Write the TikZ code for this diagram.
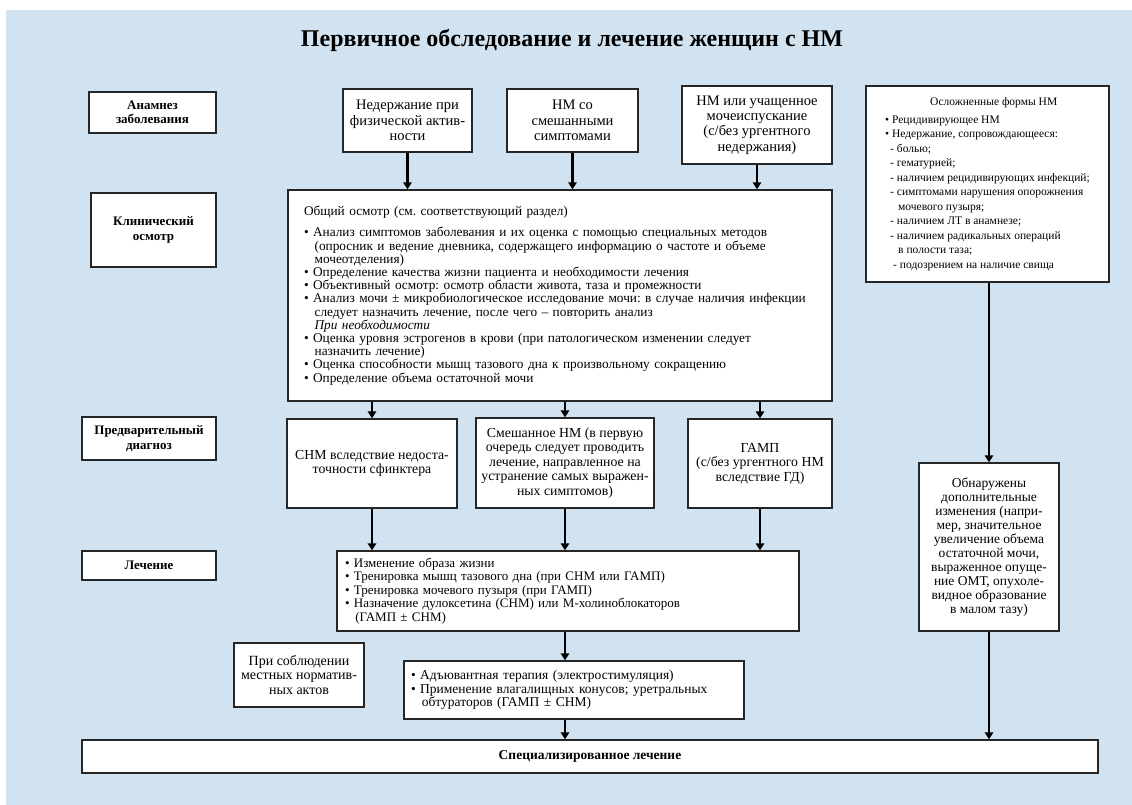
\documentclass[tikz,border=0pt]{standalone}
\usepackage{fontspec}
\setmainfont{Liberation Serif}
\usetikzlibrary{arrows.meta}
\definecolor{bgblue}{RGB}{209,227,240}
\frenchspacing

\begin{document}
\begin{tikzpicture}[x=1pt,y=-1pt,
    box/.style={draw=black!85, line width=1.4pt, fill=white, inner sep=0pt, align=center},
    lab/.style={box, font=\fontsize{13}{14.5}\selectfont\bfseries},
    txt/.style={box, font=\fontsize{14.5}{15.2}\selectfont},
    arr/.style={line width=2.6pt, -{Triangle[length=7pt,width=8.5pt]}}]

    \useasboundingbox (0,0) rectangle (1132,805);
    \fill[bgblue] (6,10) rectangle (1132,805);

    % title
    \node[font=\fontsize{24}{28}\selectfont\bfseries] (title) at (572,40)
        {Первичное обследование и лечение женщин с НМ};

    % row labels
    \node[lab, minimum width=127pt, minimum height=41pt] (anam) at (152.5,112.5) {Анамнез\\заболевания};
    \node[lab, minimum width=125pt, minimum height=74pt] (clinlab) at (153.5,230) {Клинический\\осмотр};
    \node[lab, minimum width=134pt, minimum height=43pt] (predlab) at (149,438.5) {Предварительный\\диагноз};
    \node[lab, minimum width=134pt, minimum height=29pt] (lechlab) at (149,565.5) {Лечение};

    % symptoms
    \node[txt, minimum width=129pt, minimum height=63pt] (stress) at (407.5,120.5)
        {Недержание при\\физической актив-\\ности};
    \node[txt, minimum width=131pt, minimum height=63pt] (mixsym) at (572.5,120.5)
        {НМ со\\смешанными\\симптомами};
    \node[txt, minimum width=150pt, minimum height=78pt] (urge) at (757,125)
        {НМ или учащенное\\мочеиспускание\\(с/без ургентного\\недержания)};

    % complicated forms
    \node[box, align=left, minimum width=243pt, minimum height=196pt,
          font=\fontsize{11.5}{14.5}\selectfont] (compl) at (987.5,184)
        {\hspace*{45pt}Осложненные формы НМ\\[3pt]
         • Рецидивирующее НМ\\
         • Недержание, сопровождающееся:\\
         \hspace*{5pt}- болью;\\
         \hspace*{5pt}- гематурией;\\
         \hspace*{5pt}- наличием рецидивирующих инфекций;\\
         \hspace*{5pt}- симптомами нарушения опорожнения\\
         \hspace*{13pt}мочевого пузыря;\\
         \hspace*{5pt}- наличием ЛТ в анамнезе;\\
         \hspace*{5pt}- наличием радикальных операций\\
         \hspace*{13pt}в полости таза;\\
         \hspace*{8pt}- подозрением на наличие свища};

    % clinical examination
    \node[box, align=left, text width=512pt, minimum width=544pt, minimum height=211pt,
          font=\fontsize{13.3}{13.2}\selectfont] (clin) at (560,295.5)
        {Общий осмотр (см. соответствующий раздел)\\[8pt]
         • Анализ симптомов заболевания и их оценка с помощью специальных методов\\
         \hspace*{0.8em}(опросник и ведение дневника, содержащего информацию о частоте и объеме\\
         \hspace*{0.8em}мочеотделения)\\
         • Определение качества жизни пациента и необходимости лечения\\
         • Объективный осмотр: осмотр области живота, таза и промежности\\
         • Анализ мочи ± микробиологическое исследование мочи: в случае наличия инфекции\\
         \hspace*{0.8em}следует назначить лечение, после чего -- повторить анализ\\
         \hspace*{0.8em}\textit{При необходимости}\\
         • Оценка уровня эстрогенов в крови (при патологическом изменении следует\\
         \hspace*{0.8em}назначить лечение)\\
         • Оценка способности мышц тазового дна к произвольному сокращению\\
         • Определение объема остаточной мочи};

    % preliminary diagnosis
    \node[txt, minimum width=170pt, minimum height=89pt, font=\fontsize{13.8}{14.5}\selectfont] (sui) at (372,463.5)
        {СНМ вследствие недоста-\\точности сфинктера};
    \node[txt, minimum width=178pt, minimum height=90pt, font=\fontsize{13.8}{14.5}\selectfont] (mixed) at (565,463)
        {Смешанное НМ (в первую\\очередь следует проводить\\лечение, направленное на\\устранение самых выражен-\\ных симптомов)};
    \node[txt, minimum width=144pt, minimum height=89pt, font=\fontsize{13.8}{14.5}\selectfont] (oab) at (760,463.5)
        {ГАМП\\(с/без ургентного НМ\\вследствие ГД)};
    \node[txt, minimum width=140pt, minimum height=168pt, font=\fontsize{13.5}{14}\selectfont] (found) at (989,547)
        {Обнаружены\\дополнительные\\изменения (напри-\\мер, значительное\\увеличение объема\\остаточной мочи,\\выраженное опуще-\\ние ОМТ, опухоле-\\видное образование\\в малом тазу)};

    % treatment
    \node[box, align=left, text width=446pt, minimum width=462pt, minimum height=80pt,
          font=\fontsize{13}{13.4}\selectfont] (treat) at (568,591)
        {• Изменение образа жизни\\
         • Тренировка мышц тазового дна (при СНМ или ГАМП)\\
         • Тренировка мочевого пузыря (при ГАМП)\\
         • Назначение дулоксетина (СНМ) или М-холиноблокаторов\\
         \hspace*{0.8em}(ГАМП ± СНМ)};
    \node[txt, minimum width=130pt, minimum height=64pt, font=\fontsize{14}{14.5}\selectfont] (local) at (299,675)
        {При соблюдении\\местных норматив-\\ных актов};
    \node[box, align=left, text width=326pt, minimum width=340pt, minimum height=58pt,
          font=\fontsize{13.5}{13.6}\selectfont] (adj) at (574,690)
        {• Адъювантная терапия (электростимуляция)\\
         • Применение влагалищных конусов; уретральных\\
         \hspace*{0.8em}обтураторов (ГАМП ± СНМ)};
    \node[box, font=\fontsize{13.5}{15}\selectfont\bfseries, minimum width=1016pt, minimum height=33pt] (spec) at (590,756.5)
        {Специализированное лечение};

    % arrows
    \draw[arr] (stress.south) -- (stress.south |- clin.north);
    \draw[arr] (mixsym.south) -- (mixsym.south |- clin.north);
    \draw[arr] (urge.south) -- (urge.south |- clin.north);
    \draw[arr] (sui.north |- clin.south) -- (sui.north);
    \draw[arr] (mixed.north |- clin.south) -- (mixed.north);
    \draw[arr] (oab.north |- clin.south) -- (oab.north);
    \draw[arr] (sui.south) -- (sui.south |- treat.north);
    \draw[arr] (mixed.south) -- (mixed.south |- treat.north);
    \draw[arr] (oab.south) -- (oab.south |- treat.north);
    \draw[arr] (compl.south -| found.north) -- (found.north);
    \draw[arr] (found.south) -- (found.south |- spec.north);
    \draw[arr] (mixed.south |- treat.south) -- (mixed.south |- adj.north);
    \draw[arr] (mixed.south |- adj.south) -- (mixed.south |- spec.north);

\end{tikzpicture}
\end{document}
